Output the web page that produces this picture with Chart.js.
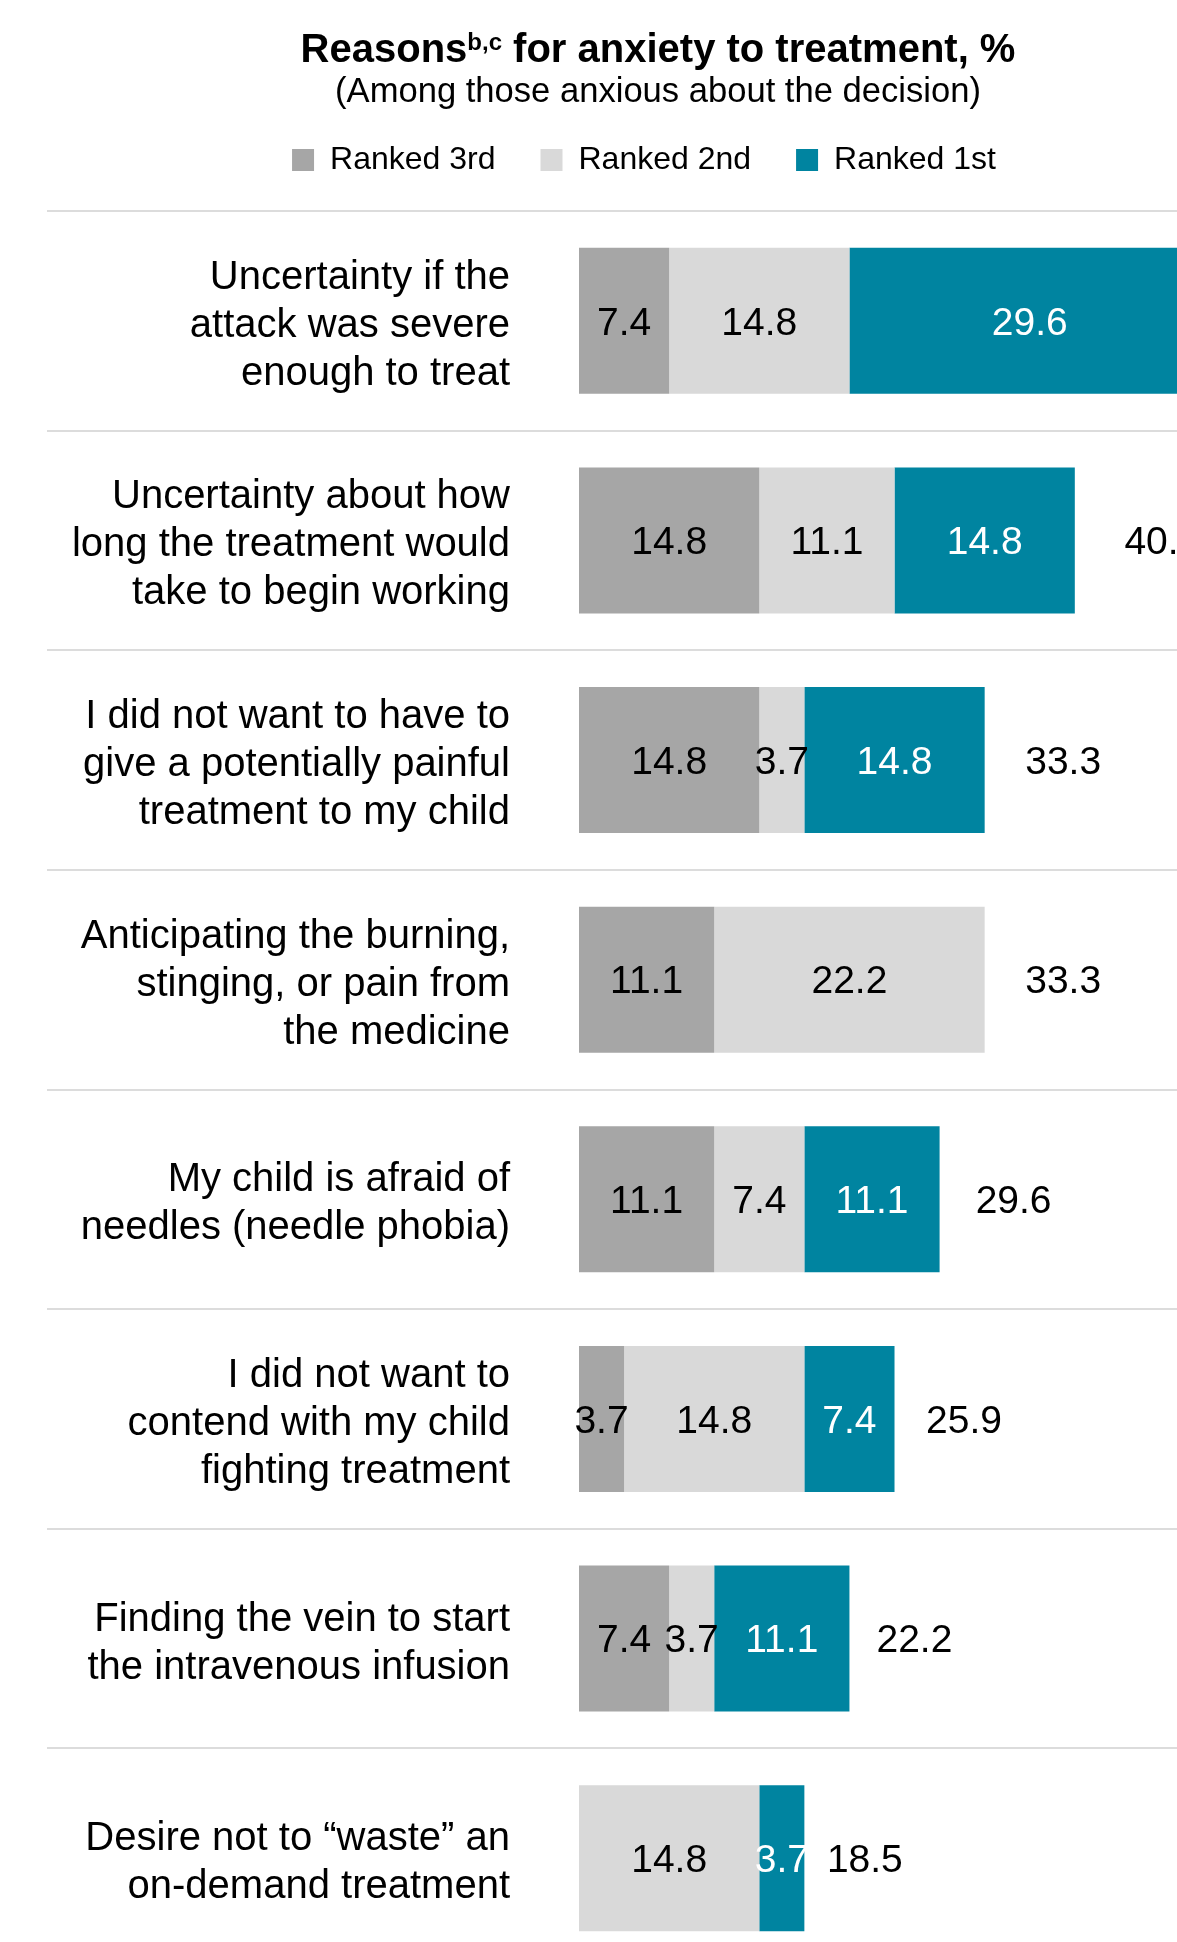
<!DOCTYPE html>
<html>
<head>
<meta charset="utf-8">
<script src="https://cdn.jsdelivr.net/npm/chart.js@4.4.1/dist/chart.umd.min.js"></script>
<style>
  html, body { margin: 0; padding: 0; background: #fff; }
  #frame { width: 1177px; height: 1942px; overflow: hidden; }
  #box { width: 1288px; height: 1968px; }
</style>
</head>
<body>
<div id="frame"><div id="box"><canvas id="myChart"></canvas></div></div>
<script>
var reasons = [
  ["Uncertainty if the", "attack was severe", "enough to treat"],
  ["Uncertainty about how", "long the treatment would", "take to begin working"],
  ["I did not want to have to", "give a potentially painful", "treatment to my child"],
  ["Anticipating the burning,", "stinging, or pain from", "the medicine"],
  ["My child is afraid of", "needles (needle phobia)"],
  ["I did not want to", "contend with my child", "fighting treatment"],
  ["Finding the vein to start", "the intravenous infusion"],
  ["Desire not to \u201cwaste\u201d an", "on-demand treatment"]
];
var ranked3rd = [7.4, 14.8, 14.8, 11.1, 11.1, 3.7, 7.4, 0];
var ranked2nd = [14.8, 11.1, 3.7, 22.2, 7.4, 14.8, 3.7, 14.8];
var ranked1st = [29.6, 14.8, 14.8, 0, 11.1, 7.4, 11.1, 3.7];
var totals = [51.8, 40.7, 33.3, 33.3, 29.6, 25.9, 22.2, 18.5];

var titleMain = "Reasons";
var titleSup = "b,c";
var titleRest = " for anxiety to treatment, %";
var subTitle = "(Among those anxious about the decision)";

var FONT = '"Liberation Sans", Arial, sans-serif';
Chart.defaults.font.family = FONT;
Chart.defaults.color = "#000";

// separators between rows, drawn under the bars
var rowLines = {
  id: "rowLines",
  beforeDatasetsDraw: function (chart) {
    var ctx = chart.ctx;
    var y = chart.scales.y;
    var band = y.getPixelForValue(1) - y.getPixelForValue(0);
    ctx.save();
    ctx.strokeStyle = "#dcdcdc";
    ctx.lineWidth = 2;
    for (var i = 0; i <= reasons.length; i++) {
      var yy = Math.round(y.getPixelForValue(i) - band / 2);
      ctx.beginPath();
      ctx.moveTo(47, yy);
      ctx.lineTo(chart.width, yy);
      ctx.stroke();
    }
    ctx.restore();
  },
};

// values in the segments and totals at the end
var barLabels = {
  id: "barLabels",
  afterDatasetsDraw: function (chart) {
    var ctx = chart.ctx;
    ctx.save();
    ctx.font = "39px " + FONT;
    ctx.textBaseline = "middle";
    ctx.textAlign = "center";
    chart.data.datasets.forEach(function (ds, d) {
      var meta = chart.getDatasetMeta(d);
      meta.data.forEach(function (el, i) {
        if (!ds.data[i]) return;
        ctx.fillStyle = d == 2 ? "#fff" : "#000";
        ctx.fillText(ds.data[i].toFixed(1), (el.x + el.base) / 2, el.y + 3);
      });
    });
    ctx.textAlign = "left";
    ctx.fillStyle = "#000";
    for (var i = 0; i < totals.length; i++) {
      var x = chart.scales.x.getPixelForValue(totals[i] * 1.1);
      ctx.fillText(totals[i].toFixed(1), x, chart.scales.y.getPixelForValue(i) + 3);
    }
    ctx.restore();
  },
};

// title with superscript + subtitle
var heading = {
  id: "heading",
  afterDraw: function (chart) {
    var ctx = chart.ctx;
    var cx = 658;
    ctx.save();
    ctx.fillStyle = "#000";
    ctx.textBaseline = "alphabetic";
    ctx.textAlign = "left";
    ctx.font = "bold 40px " + FONT;
    var w1 = ctx.measureText(titleMain).width;
    var w3 = ctx.measureText(titleRest).width;
    ctx.font = "bold 24px " + FONT;
    var w2 = ctx.measureText(titleSup).width;
    var x = cx - (w1 + w2 + w3) / 2;
    ctx.font = "bold 40px " + FONT;
    ctx.fillText(titleMain, x, 62);
    ctx.font = "bold 24px " + FONT;
    ctx.fillText(titleSup, x + w1, 50);
    ctx.font = "bold 40px " + FONT;
    ctx.fillText(titleRest, x + w1 + w2, 62);
    ctx.font = "34.6px " + FONT;
    ctx.textAlign = "center";
    ctx.fillText(subTitle, cx, 102);
    ctx.restore();
  },
};

new Chart("myChart", {
  type: "bar",
  data: {
    labels: reasons,
    datasets: [
      { label: "Ranked 3rd", data: ranked3rd, backgroundColor: "#a6a6a6" },
      { label: "Ranked 2nd", data: ranked2nd, backgroundColor: "#d9d9d9" },
      { label: "Ranked 1st", data: ranked1st, backgroundColor: "#0084a0" },
    ],
  },
  options: {
    indexAxis: "y",
    responsive: true,
    maintainAspectRatio: false,
    animation: false,
    layout: { padding: { top: 99, left: 0, right: 0, bottom: 0 } },
    datasets: { bar: { barPercentage: 0.665, categoryPercentage: 1, borderWidth: 0 } },
    scales: {
      x: {
        stacked: true,
        position: "top",
        min: 0,
        max: 58.2,
        grid: { display: false },
        border: { display: false },
        ticks: { display: false },
        afterFit: function (s) { s.height = 25; },
      },
      y: {
        stacked: true,
        grid: { display: false, drawTicks: false },
        border: { display: false },
        ticks: { padding: 69, labelOffset: 5, color: "#000", font: { size: 40, lineHeight: 1.2 } },
        afterFit: function (s) {
          s.width = 579;
          s.paddingTop = 0;
          s.paddingBottom = 0;
        },
      },
    },
    plugins: {
      legend: {
        position: "top",
        labels: { boxWidth: 22, boxHeight: 22, padding: 45, color: "#000", font: { size: 32 } },
      },
      title: { display: false },
      tooltip: { enabled: false },
    },
  },
  plugins: [rowLines, barLabels, heading],
});
</script>
</body>
</html>
